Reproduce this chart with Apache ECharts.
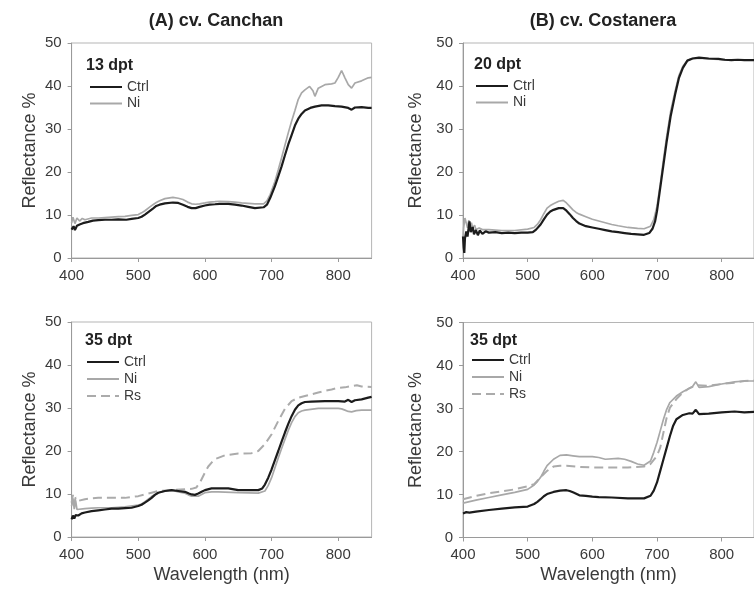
<!DOCTYPE html>
<html><head><meta charset="utf-8">
<script src="https://cdn.jsdelivr.net/npm/echarts@6/dist/echarts.min.js"></script>
<style>html,body{margin:0;padding:0;background:#fff}#c{width:754px;height:594px}</style>
</head><body><div id="c"></div>
<script>
// Tick labels
const xTicks = [400, 500, 600, 700, 800];
const yTicks = [0, 10, 20, 30, 40, 50];
const panelTitles = ['(A) cv. Canchan', '(B) cv. Costanera'];
const panelLabels = ['13 dpt', '20 dpt', '35 dpt', '35 dpt'];

// Panel A top, 13 dpt  [wavelength nm, reflectance %]
const a13Ctrl = [[400,6.6],[403,7.4],[405,6.5],[408,7.5],[412,7.8],[417,8.1],[425,8.4],[432,8.7],[440,8.8],[450,8.9],
  [460,8.9],[470,9.0],[482,8.9],[490,9.1],[500,9.3],[505,9.6],[510,10.1],[516,10.8],[522,11.5],[527,12.1],
  [532,12.4],[540,12.7],[552,12.9],[560,12.8],[567,12.4],[574,11.9],[580,11.6],[586,11.6],[592,11.9],[600,12.2],
  [607,12.4],[615,12.5],[622,12.6],[635,12.6],[645,12.4],[655,12.2],[665,11.9],[675,11.6],[688,11.8],[693,12.4],
  [698,14.0],[705,16.7],[710,19.0],[715,21.3],[720,23.9],[725,26.4],[730,28.6],[735,30.8],[740,32.4],[745,33.5],
  [750,34.3],[758,34.9],[765,35.2],[775,35.5],[785,35.5],[795,35.3],[805,35.2],[815,34.9],[820,34.5],[825,35.0],
  [835,35.1],[845,34.9],[850,34.9]];
const a13Ni = [[400,8.1],[402,9.5],[405,8.0],[408,9.3],[412,8.6],[416,9.2],[420,8.9],[430,9.3],[440,9.3],[450,9.4],
  [460,9.5],[470,9.6],[480,9.7],[490,9.9],[500,10.1],[505,10.5],[510,11.0],[516,11.7],[522,12.4],[527,12.9],
  [532,13.3],[540,13.8],[552,14.1],[560,13.9],[567,13.6],[574,13.0],[580,12.6],[586,12.5],[592,12.6],[600,12.8],
  [607,13.0],[615,13.1],[622,13.2],[635,13.1],[645,13.0],[655,12.8],[665,12.7],[675,12.6],[688,12.6],[693,13.3],
  [698,14.8],[705,17.8],[710,20.5],[715,23.3],[720,26.2],[725,29.1],[730,31.8],[735,34.3],[740,36.9],[745,38.4],
  [750,39.1],[757,39.9],[762,38.9],[765,37.6],[770,39.5],[780,40.3],[790,40.5],[795,40.7],[800,42.0],[805,43.6],
  [810,41.9],[815,40.3],[820,39.5],[825,40.7],[835,41.2],[845,41.9],[850,42.0]];

// Panel B top, 20 dpt
const b20Ctrl = [[400,5.0],[401,2.5],[402,1.2],[403,4.5],[405,6.2],[407,5.0],[410,8.5],[412,6.0],[415,7.2],[417,5.5],
  [420,6.5],[423,5.3],[426,6.4],[430,5.6],[435,6.2],[440,5.9],[450,6.0],[460,5.8],[470,5.9],[480,5.8],
  [490,5.9],[500,5.9],[508,6.0],[513,6.6],[520,7.8],[525,9.0],[530,10.1],[535,10.8],[540,11.2],[548,11.6],
  [555,11.6],[560,11.0],[565,10.2],[570,9.3],[575,8.6],[580,8.0],[590,7.4],[600,7.1],[610,6.8],[620,6.5],
  [630,6.2],[640,6.0],[650,5.8],[660,5.6],[670,5.5],[680,5.4],[688,5.8],[693,6.8],[697,8.5],[700,10.9],
  [705,16.3],[710,21.7],[715,27.1],[721,32.9],[728,38.0],[734,41.9],[740,44.2],[747,45.9],[755,46.4],[765,46.6],
  [780,46.4],[795,46.3],[805,46.1],[815,46.0],[825,46.1],[835,46.0],[850,46.0]];
const b20Ni = [[400,4.7],[401,7.0],[403,9.3],[405,8.9],[407,7.0],[409,8.8],[411,6.8],[413,8.2],[415,7.0],[418,7.6],
  [420,6.6],[425,7.0],[430,6.6],[440,6.6],[450,6.5],[460,6.4],[480,6.4],[500,6.7],[510,7.1],[515,7.8],
  [520,8.9],[525,10.3],[530,11.6],[535,12.2],[540,12.6],[548,13.2],[555,13.4],[560,12.8],[565,12.0],[570,11.2],
  [575,10.6],[580,10.2],[590,9.6],[600,9.0],[610,8.6],[620,8.2],[630,7.8],[640,7.5],[655,7.1],[670,6.9],
  [680,6.8],[690,7.4],[695,8.9],[700,12.0],[705,17.1],[710,22.9],[715,28.3],[721,34.0],[728,38.8],[734,42.5],
  [740,44.6],[747,46.0],[755,46.4],[765,46.5],[780,46.3],[795,46.2],[805,46.0],[815,46.1],[825,46.0],[835,46.0],[850,46.0]];

// Panel A bottom, 35 dpt
const a35Ctrl = [[400,4.1],[402,5.0],[404,4.3],[406,5.1],[410,5.0],[415,5.5],[420,5.7],[430,6.0],[440,6.2],[450,6.4],
  [460,6.6],[470,6.6],[480,6.7],[490,6.8],[500,7.2],[505,7.5],[510,8.0],[515,8.5],[520,9.1],[525,9.8],
  [530,10.3],[540,10.7],[550,10.9],[560,10.7],[570,10.5],[576,10.1],[580,9.9],[585,9.8],[590,10.1],[595,10.5],
  [600,10.9],[610,11.3],[620,11.3],[635,11.3],[650,10.9],[665,10.9],[680,10.9],[686,11.3],[690,12.2],[695,13.8],
  [700,15.7],[705,17.9],[710,20.0],[715,22.2],[720,24.3],[725,26.3],[730,28.1],[735,29.6],[740,30.6],[745,31.1],
  [750,31.4],[760,31.5],[780,31.6],[800,31.6],[810,31.5],[815,31.9],[820,31.4],[825,31.8],[835,32.0],[845,32.4],[850,32.6]];
const a35Ni = [[400,7.2],[402,9.0],[404,6.5],[406,8.5],[408,6.4],[410,6.6],[420,6.6],[430,6.7],[440,6.8],[460,6.8],
  [480,7.0],[500,7.4],[505,7.7],[510,8.2],[515,8.8],[520,9.4],[525,9.9],[530,10.3],[540,10.7],[550,10.9],
  [560,10.5],[570,10.2],[575,9.8],[580,9.5],[590,9.5],[595,9.9],[600,10.3],[610,10.5],[620,10.5],[650,10.3],
  [680,10.2],[690,10.7],[695,12.0],[700,13.8],[705,16.1],[710,18.4],[715,20.6],[720,22.7],[725,24.8],[730,26.6],
  [735,28.0],[740,28.9],[745,29.3],[750,29.5],[770,29.9],[800,29.9],[805,29.8],[810,29.5],[815,29.2],[820,29.1],
  [827,29.4],[835,29.5],[850,29.5]];
const a35Rs = [[400,8.0],[402,9.8],[404,7.8],[406,9.2],[410,8.4],[420,8.8],[430,9.0],[440,9.1],[460,9.1],[480,9.1],
  [500,9.5],[510,9.9],[520,10.3],[530,10.7],[550,10.9],[570,11.1],[580,11.2],[587,11.5],[593,12.8],[600,15.0],
  [605,16.4],[610,17.3],[615,18.1],[620,18.4],[630,19.0],[650,19.4],[670,19.5],[680,20.0],[690,21.6],[700,23.9],
  [710,27.0],[720,29.8],[730,31.6],[740,32.4],[750,32.8],[760,33.2],[770,33.6],[780,34.0],[790,34.3],[800,34.7],
  [810,34.8],[820,35.1],[828,35.3],[835,35.0],[850,34.9]];

// Panel B bottom, 35 dpt
const b35Ctrl = [[400,5.6],[405,5.9],[410,5.8],[420,6.0],[440,6.4],[460,6.7],[480,7.0],[500,7.2],[510,7.8],[515,8.3],
  [520,8.9],[525,9.6],[530,10.1],[540,10.6],[550,10.9],[560,11.0],[565,10.8],[570,10.5],[580,9.8],[590,9.7],
  [600,9.5],[610,9.4],[630,9.3],[655,9.1],[680,9.1],[690,9.7],[695,10.9],[700,12.8],[705,15.5],[710,18.2],
  [715,20.9],[720,23.6],[725,26.0],[730,27.5],[740,28.5],[750,28.9],[755,28.8],[760,29.7],[765,28.7],[780,28.8],
  [800,29.1],[820,29.3],[835,29.1],[850,29.2]];
const b35Ni = [[400,8.0],[420,8.7],[440,9.3],[460,9.9],[480,10.5],[500,11.2],[510,12.2],[515,13.0],[520,14.0],[525,15.4],
  [530,16.7],[540,18.2],[550,19.1],[560,19.2],[570,19.0],[580,18.8],[600,18.8],[610,18.6],[620,18.2],[640,18.4],
  [650,18.2],[660,17.7],[670,17.1],[680,16.8],[690,17.8],[695,19.8],[700,22.1],[705,24.8],[710,27.5],[715,29.8],
  [720,31.4],[730,32.9],[740,33.9],[750,34.7],[755,35.1],[760,36.2],[765,34.9],[780,35.1],[800,35.7],[820,36.2],
  [835,36.4],[850,36.4]];
const b35Rs = [[400,8.9],[420,9.7],[440,10.3],[460,10.7],[480,11.2],[500,11.9],[510,12.4],[520,14.0],[530,15.5],[540,16.5],
  [550,16.7],[560,16.7],[580,16.4],[600,16.3],[630,16.3],[655,16.3],[680,16.5],[690,17.1],[700,19.0],[705,20.9],
  [710,24.4],[715,27.9],[720,30.2],[730,32.2],[740,33.7],[750,34.7],[760,35.4],[780,35.3],[800,35.7],[820,36.0],
  [835,36.4],[850,36.5]];

const FONT = '"Liberation Sans", Arial, sans-serif';
const styles = {
  Ctrl: { color: '#1c1c1c', width: 2.2, type: 'solid', z: 4 },
  Ni:   { color: '#a8a8a8', width: 1.7, type: 'solid', z: 3 },
  Rs:   { color: '#ababab', width: 2.0, type: [9, 5], z: 2 }
};

const grids = [
  { left: 71.6, top: 43, width: 300, height: 215 },
  { left: 463, top: 43, width: 301, height: 215 },
  { left: 71.6, top: 322, width: 300, height: 215 },
  { left: 463, top: 322.5, width: 301, height: 215 }
];
const panelSeries = [
  { Ctrl: a13Ctrl, Ni: a13Ni },
  { Ctrl: b20Ctrl, Ni: b20Ni },
  { Ctrl: a35Ctrl, Ni: a35Ni, Rs: a35Rs },
  { Ctrl: b35Ctrl, Ni: b35Ni, Rs: b35Rs }
];
const yNameGaps = [33, 38, 33, 38];

const option = {
  animation: false,
  backgroundColor: '#fff',
  textStyle: { fontFamily: FONT },
  grid: grids.map(g => Object.assign({ show: true, borderColor: '#b5b5b5', borderWidth: 1, backgroundColor: 'transparent' }, g)),
  xAxis: grids.map((g, i) => ({
    type: 'value', gridIndex: i, min: 400, max: 850, interval: 100,
    axisLine: { show: true, lineStyle: { color: '#9a9a9a', width: 1 } },
    axisTick: { show: true, inside: false, length: 4, customValues: xTicks, lineStyle: { color: '#9a9a9a' } },
    axisLabel: { customValues: xTicks, fontSize: 15, color: '#3a3a3a', margin: 10, fontFamily: FONT },
    splitLine: { show: false },
    name: i >= 2 ? 'Wavelength (nm)' : '',
    nameLocation: 'middle', nameGap: 29,
    nameTextStyle: { fontSize: 18, color: '#3a3a3a', fontFamily: FONT }
  })),
  yAxis: grids.map((g, i) => ({
    type: 'value', gridIndex: i, min: 0, max: 50, interval: 10,
    axisLine: { show: true, lineStyle: { color: '#9a9a9a', width: 1 } },
    axisTick: { show: true, inside: false, length: 4, customValues: yTicks, lineStyle: { color: '#9a9a9a' } },
    axisLabel: { customValues: yTicks, fontSize: 15, color: '#3a3a3a', margin: 10, fontFamily: FONT },
    splitLine: { show: false },
    name: 'Reflectance %', nameLocation: 'middle', nameGap: yNameGaps[i],
    nameTextStyle: { fontSize: 18, color: '#3a3a3a', fontFamily: FONT }
  })),
  legend: [
    { left: 89, top: 80, itemGap: 2.5, data: ['Ctrl', 'Ni'] },
    { left: 475, top: 79, itemGap: 2.5, data: ['Ctrl', 'Ni'] },
    { left: 86, top: 355, itemGap: 3, data: ['Ctrl', 'Ni', 'Rs'] },
    { left: 471, top: 353, itemGap: 3, data: ['Ctrl', 'Ni', 'Rs'] }
  ].map(l => Object.assign({
    orient: 'vertical', itemWidth: 32, itemHeight: 14, padding: 0, selectedMode: false,
    itemStyle: { opacity: 0 },
    textStyle: { fontSize: 14, color: '#3a3a3a', fontFamily: FONT }
  }, l)),
  graphic: [
    { type: 'text', x: 216, y: 21, style: { text: panelTitles[0], font: 'bold 18px ' + FONT, fill: '#222', align: 'center', verticalAlign: 'middle' } },
    { type: 'text', x: 603, y: 21, style: { text: panelTitles[1], font: 'bold 18px ' + FONT, fill: '#222', align: 'center', verticalAlign: 'middle' } },
    { type: 'text', x: 86, y: 65.5, style: { text: panelLabels[0], font: 'bold 16px ' + FONT, fill: '#222', align: 'left', verticalAlign: 'middle' } },
    { type: 'text', x: 474, y: 65, style: { text: panelLabels[1], font: 'bold 16px ' + FONT, fill: '#222', align: 'left', verticalAlign: 'middle' } },
    { type: 'text', x: 85, y: 340.5, style: { text: panelLabels[2], font: 'bold 16px ' + FONT, fill: '#222', align: 'left', verticalAlign: 'middle' } },
    { type: 'text', x: 470, y: 341, style: { text: panelLabels[3], font: 'bold 16px ' + FONT, fill: '#222', align: 'left', verticalAlign: 'middle' } }
  ],
  series: []
};

panelSeries.forEach((p, i) => {
  Object.keys(p).forEach(name => {
    const s = styles[name];
    option.series.push({
      type: 'line', name: name, xAxisIndex: i, yAxisIndex: i,
      data: p[name], showSymbol: false, symbol: 'none', smooth: false, z: s.z,
      lineStyle: { color: s.color, width: s.width, type: s.type },
      itemStyle: { color: s.color }
    });
  });
});

const chart = echarts.init(document.getElementById('c'), null, { renderer: 'canvas' });
chart.setOption(option);
</script>
</body></html>
